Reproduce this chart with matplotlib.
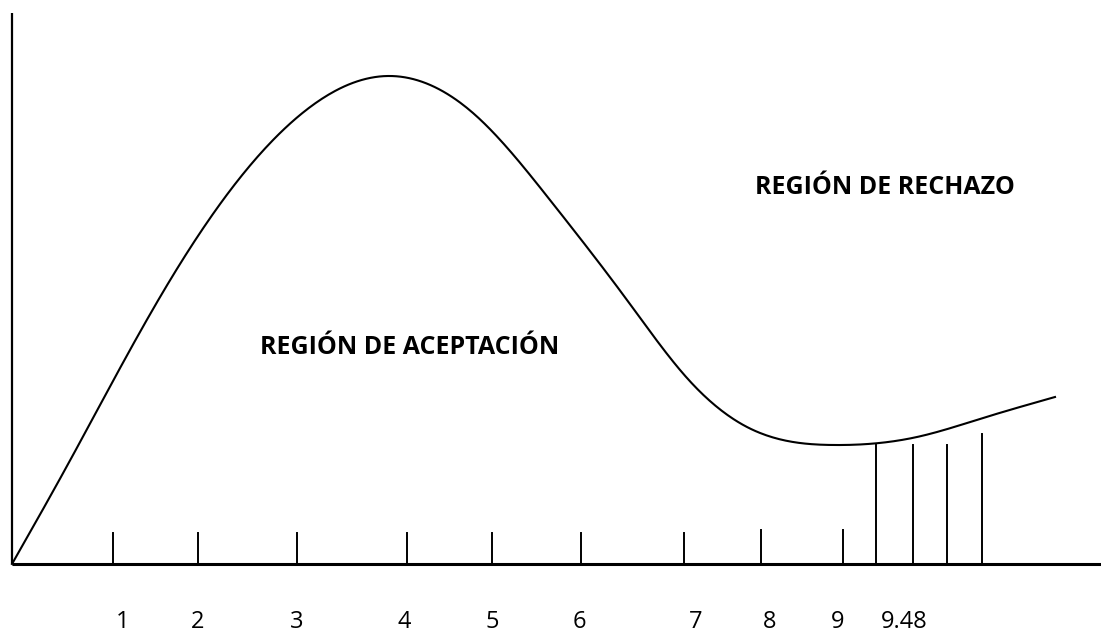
import numpy as np
import matplotlib
matplotlib.use("Agg")
import matplotlib.pyplot as plt

# Curve points (x from origin, height above baseline)
curve_x = [0, 55, 101, 151, 211, 288, 376, 461, 538, 615, 675, 735, 821, 905, 971, 1043]
curve_y = [0, 98, 183, 272, 364, 449, 488, 451, 364, 264, 186, 137, 119, 127, 146, 167]

# Small tick marks on the baseline
tick_x = [101, 186, 285, 395, 480, 569, 672, 749, 831]
tick_h = [31, 31, 31, 31, 31, 31, 31, 34, 34]

# Vertical lines in the rejection region
rej_x = [864, 901, 935, 970]
rej_h = [119, 119, 119, 130]

# Labels under the axis
label_text = ["1", "2", "3", "4", "5", "6", "7", "8", "9", "9.48"]
label_x = [111, 186, 285, 392, 480, 567, 684, 758, 826, 892]
label_y = -58


def natural_spline(xs, ys, n=40):
    # natural cubic spline through the read points, only used for drawing
    x = np.asarray(xs, float)
    y = np.asarray(ys, float)
    k = len(x)
    h = np.diff(x)
    A = np.zeros((k, k))
    b = np.zeros(k)
    A[0, 0] = A[-1, -1] = 1
    for i in range(1, k - 1):
        A[i, i - 1] = h[i - 1]
        A[i, i] = 2 * (h[i - 1] + h[i])
        A[i, i + 1] = h[i]
        b[i] = 6 * ((y[i + 1] - y[i]) / h[i] - (y[i] - y[i - 1]) / h[i - 1])
    M = np.linalg.solve(A, b)
    px, py = [], []
    for i in range(k - 1):
        t = np.linspace(x[i], x[i + 1], n, endpoint=False)
        a = x[i + 1] - t
        c = t - x[i]
        s = (M[i] * a ** 3 + M[i + 1] * c ** 3) / (6 * h[i]) \
            + (y[i] / h[i] - M[i] * h[i] / 6) * a \
            + (y[i + 1] / h[i] - M[i + 1] * h[i] / 6) * c
        px.append(t)
        py.append(s)
    px.append([x[-1]])
    py.append([y[-1]])
    return np.concatenate(px), np.concatenate(py)


fig = plt.figure(figsize=(11.01, 6.33), dpi=100)
ax = fig.add_axes([0, 0, 1, 1])
ax.set_xlim(-12, 1089)
ax.set_ylim(-69, 564)
ax.axis("off")

# axes lines
ax.plot([0, 0], [0, 551], color="black", lw=1.6, solid_capstyle="butt")
ax.plot([0, 1089], [0, 0], color="black", lw=2.2, solid_capstyle="butt")

# curve
cx, cy = natural_spline(curve_x, curve_y)
ax.plot(cx, cy, color="black", lw=1.5)

# ticks
for x, h in zip(tick_x, tick_h):
    ax.plot([x, x], [0, h], color="black", lw=1.4)
for x, h in zip(rej_x, rej_h):
    ax.plot([x, x], [0, h], color="black", lw=1.4)

# labels
for t, x in zip(label_text, label_x):
    ax.text(x, label_y, t, ha="center", va="center", fontsize=17,
            family="Open Sans", color="black")

ax.text(248, 216, "REGIÓN DE ACEPTACIÓN", ha="left", va="center",
        fontsize=18, fontweight="bold", family="Open Sans")
ax.text(743, 376, "REGIÓN DE RECHAZO", ha="left", va="center",
        fontsize=18, fontweight="bold", family="Open Sans")

fig.savefig("out.png", dpi=100)
